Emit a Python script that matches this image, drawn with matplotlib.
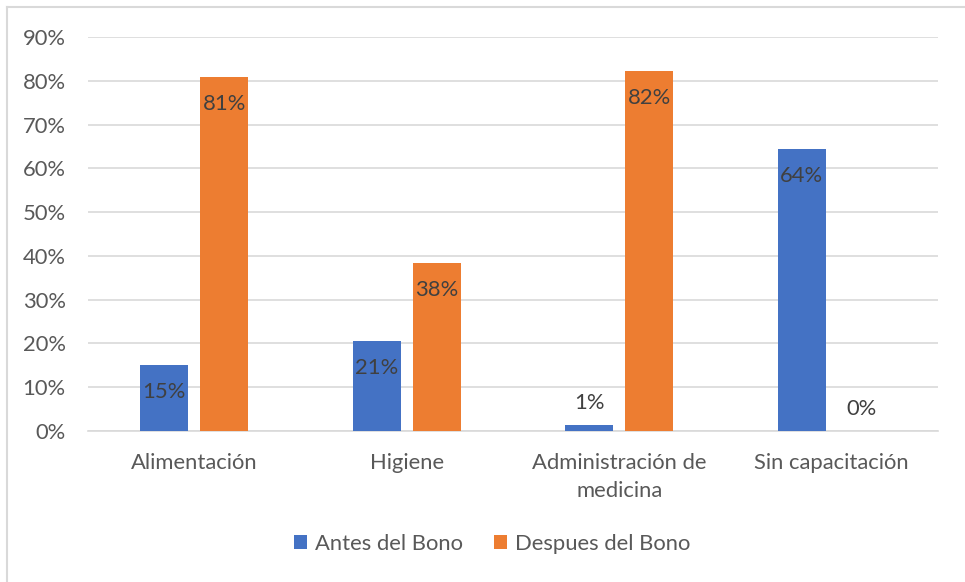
import matplotlib.pyplot as plt
import numpy as np
from matplotlib.lines import Line2D

# Datos
categorias = ["Alimentación", "Higiene", "Administración de\nmedicina", "Sin capacitación"]
antes = [15.1, 20.6, 1.4, 64.4]
despues = [80.8, 38.4, 82.2, 0.0]
series = ["Antes del Bono", "Despues del Bono"]
yticks = [0, 10, 20, 30, 40, 50, 60, 70, 80, 90]

AZUL = "#4472C4"
NARANJA = "#ED7D31"
GRIS_TXT = "#595959"
GRIS_LBL = "#404040"
GRIS_GRID = "#D9D9D9"

plt.rcParams["font.family"] = ["Lato", "DejaVu Sans"]
FS = 15.8

W, H = 965, 582
fig = plt.figure(figsize=(W / 100, H / 100), dpi=100)
ax = fig.add_axes([88 / W, 1 - 431 / H, (938 - 88) / W, (431 - 37) / H])

x = np.arange(len(categorias))
ancho = 0.226
desp = 0.142

b1 = ax.bar(x - desp, antes, ancho, color=AZUL, zorder=3)
b2 = ax.bar(x + desp, despues, ancho, color=NARANJA, zorder=3)

# etiquetas de datos
for barras, vals in ((b1, antes), (b2, despues)):
    for rect, v in zip(barras, vals):
        cx = rect.get_x() + rect.get_width() / 2
        if v > 5:
            off = -27
        else:
            off = 22
        ax.annotate(f"{round(v):.0f}%", (cx, v), xytext=(0, off),
                    textcoords="offset pixels", ha="center", va="center",
                    fontsize=FS, color=GRIS_LBL, zorder=4)

ax.set_xlim(-0.5, len(categorias) - 0.5)
ax.set_ylim(0, 90)
ax.set_yticks(yticks)
ax.set_yticklabels([f"{t}%" for t in yticks])
ax.set_xticks(x)
ax.set_xticklabels(categorias, linespacing=1.5)
ax.tick_params(axis="y", length=0, pad=16, labelsize=FS, labelcolor=GRIS_TXT)
ax.tick_params(axis="x", length=0, pad=16, labelsize=FS, labelcolor=GRIS_TXT)

ax.grid(axis="y", color=GRIS_GRID, linewidth=1.2, zorder=0)
for s in ["top", "right", "left"]:
    ax.spines[s].set_visible(False)
ax.spines["bottom"].set_color(GRIS_GRID)
ax.spines["bottom"].set_linewidth(1.2)

fig.legend([b1, b2], series, loc="center", bbox_to_anchor=(492 / W, 1 - 544 / H),
           ncol=2, frameon=False, fontsize=FS, labelcolor=GRIS_TXT,
           handlelength=0.6, handleheight=0.6, handletextpad=0.35,
           columnspacing=1.4)

# borde del area del grafico (cortado a la derecha y abajo)
fig.add_artist(Line2D([7 / W, 7 / W], [0, 1 - 7 / H], color=GRIS_GRID, linewidth=1.5))
fig.add_artist(Line2D([7 / W, 1], [1 - 7 / H, 1 - 7 / H], color=GRIS_GRID, linewidth=1.5))

fig.savefig("out.png", dpi=100)
